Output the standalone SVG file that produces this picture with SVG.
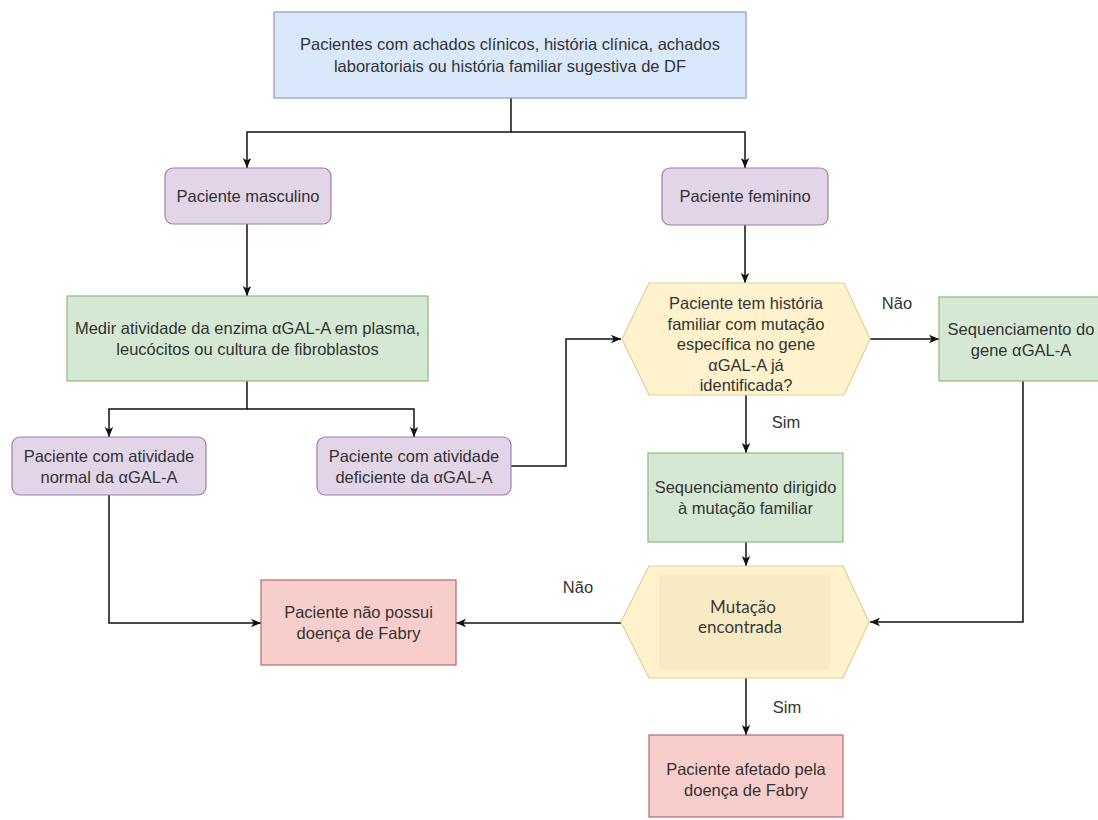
<svg xmlns="http://www.w3.org/2000/svg" width="1098" height="820" viewBox="0 0 1098 820">
  <defs>
    <marker id="arrow" markerUnits="userSpaceOnUse" markerWidth="12" markerHeight="10" refX="10" refY="5" orient="auto">
      <path d="M0,0.8 L10,5 L0,9.2 L2.6,5 Z" fill="#111"/>
    </marker>
    <style>
      .t { font-family: "Liberation Sans", Arial, sans-serif; font-size: 16.5px; fill: #333; text-anchor: middle; }
      .c { font-family: Lato, "Open Sans", sans-serif; font-size: 17px; fill: #3a3a3a; text-anchor: middle; }
      .blue { fill: #dae8fc; stroke: #8a9cc0; stroke-width: 1.2; }
      .purple { fill: #e1d5e7; stroke: #9b80a9; stroke-width: 1.2; }
      .green { fill: #d5e8d4; stroke: #8fb87a; stroke-width: 1.2; }
      .yellow { fill: #fff2cc; stroke: #e2cf94; stroke-width: 1.2; }
      .red { fill: #f8cecc; stroke: #b46a66; stroke-width: 1.2; }
      .edge { fill: none; stroke: #111; stroke-width: 1.5; }
    </style>
  </defs>
  <rect width="1098" height="820" fill="#ffffff"/>

  <!-- connectors -->
  <g id="connectors">
    <path class="edge" d="M511,98 V132 H247 V168" marker-end="url(#arrow)"/>
    <path class="edge" d="M511,132 H745 V168" marker-end="url(#arrow)"/>
    <path class="edge" d="M247,224 V296" marker-end="url(#arrow)"/>
    <path class="edge" d="M247,381 V409 H109 V437" marker-end="url(#arrow)"/>
    <path class="edge" d="M247,409 H414 V437" marker-end="url(#arrow)"/>
    <path class="edge" d="M745,225 V283" marker-end="url(#arrow)"/>
    <path class="edge" d="M511,466 H566 V339 H621" marker-end="url(#arrow)"/>
    <path class="edge" d="M870,339 H939" marker-end="url(#arrow)"/>
    <path class="edge" d="M746,395 V453" marker-end="url(#arrow)"/>
    <path class="edge" d="M746,542 V566" marker-end="url(#arrow)"/>
    <path class="edge" d="M1023,381 V622 H870" marker-end="url(#arrow)"/>
    <path class="edge" d="M621,623 H456" marker-end="url(#arrow)"/>
    <path class="edge" d="M109,495 V623 H261" marker-end="url(#arrow)"/>
    <path class="edge" d="M746,678 V735" marker-end="url(#arrow)"/>
    <text class="t" x="897" y="309">Não</text>
    <text class="t" x="786" y="428">Sim</text>
    <text class="t" x="578" y="593">Não</text>
    <text class="t" x="787" y="713">Sim</text>
  </g>

  <g id="inicio">
    <rect class="blue" x="274" y="12" width="472" height="86"/>
    <text class="t" x="510" y="50">Pacientes com achados clínicos, história clínica, achados</text>
    <text class="t" x="510" y="72">laboratoriais ou história familiar sugestiva de DF</text>
  </g>

  <g id="masculino">
    <rect class="purple" x="165" y="168" width="166" height="56" rx="8"/>
    <text class="t" x="248" y="202">Paciente masculino</text>
  </g>

  <g id="feminino">
    <rect class="purple" x="662" y="168" width="166" height="57" rx="8"/>
    <text class="t" x="745" y="202">Paciente feminino</text>
  </g>

  <g id="medir">
    <rect class="green" x="67" y="296" width="361" height="85"/>
    <text class="t" x="247.5" y="334">Medir atividade da enzima αGAL-A em plasma,</text>
    <text class="t" x="247.5" y="355">leucócitos ou cultura de fibroblastos</text>
  </g>

  <g id="atividade-normal">
    <rect class="purple" x="12" y="437" width="194" height="58" rx="8"/>
    <text class="t" x="109" y="462">Paciente com atividade</text>
    <text class="t" x="109" y="483">normal da αGAL-A</text>
  </g>

  <g id="atividade-deficiente">
    <rect class="purple" x="317" y="437" width="194" height="58" rx="8"/>
    <text class="t" x="414" y="462">Paciente com atividade</text>
    <text class="t" x="414" y="483">deficiente da αGAL-A</text>
  </g>

  <g id="historia-familiar">
    <polygon class="yellow" points="622,339 649,283 844,283 870,339 844,395 649,395"/>
    <text class="t" x="746" y="309">Paciente tem história</text>
    <text class="t" x="746" y="329.5">familiar com mutação</text>
    <text class="t" x="746" y="350">específica no gene</text>
    <text class="t" x="746" y="370.5">αGAL-A já</text>
    <text class="t" x="746" y="391">identificada?</text>
  </g>

  <g id="sequenciamento-gene">
    <rect class="green" x="939" y="297" width="165" height="84"/>
    <text class="t" x="1021" y="335">Sequenciamento do</text>
    <text class="t" x="1021" y="356">gene αGAL-A</text>
  </g>

  <g id="sequenciamento-dirigido">
    <rect class="green" x="648" y="453" width="195" height="89"/>
    <text class="t" x="745.5" y="493">Sequenciamento dirigido</text>
    <text class="t" x="745.5" y="514">à mutação familiar</text>
  </g>

  <g id="mutacao-encontrada">
    <polygon class="yellow" points="621,622 649,566 843,566 869,622 843,678 649,678"/>
    <rect x="659" y="575" width="171" height="95" fill="#f3e4bd" opacity="0.6"/>
    <text class="c" x="743" y="613">Mutação</text>
    <text class="c" x="740" y="633">encontrada</text>
  </g>

  <g id="nao-possui">
    <rect class="red" x="261" y="580" width="195" height="85"/>
    <text class="t" x="358.5" y="618">Paciente não possui</text>
    <text class="t" x="358.5" y="639">doença de Fabry</text>
  </g>

  <g id="afetado">
    <rect class="red" x="649" y="735" width="194" height="82"/>
    <text class="t" x="746" y="775">Paciente afetado pela</text>
    <text class="t" x="746" y="796">doença de Fabry</text>
  </g>
</svg>
